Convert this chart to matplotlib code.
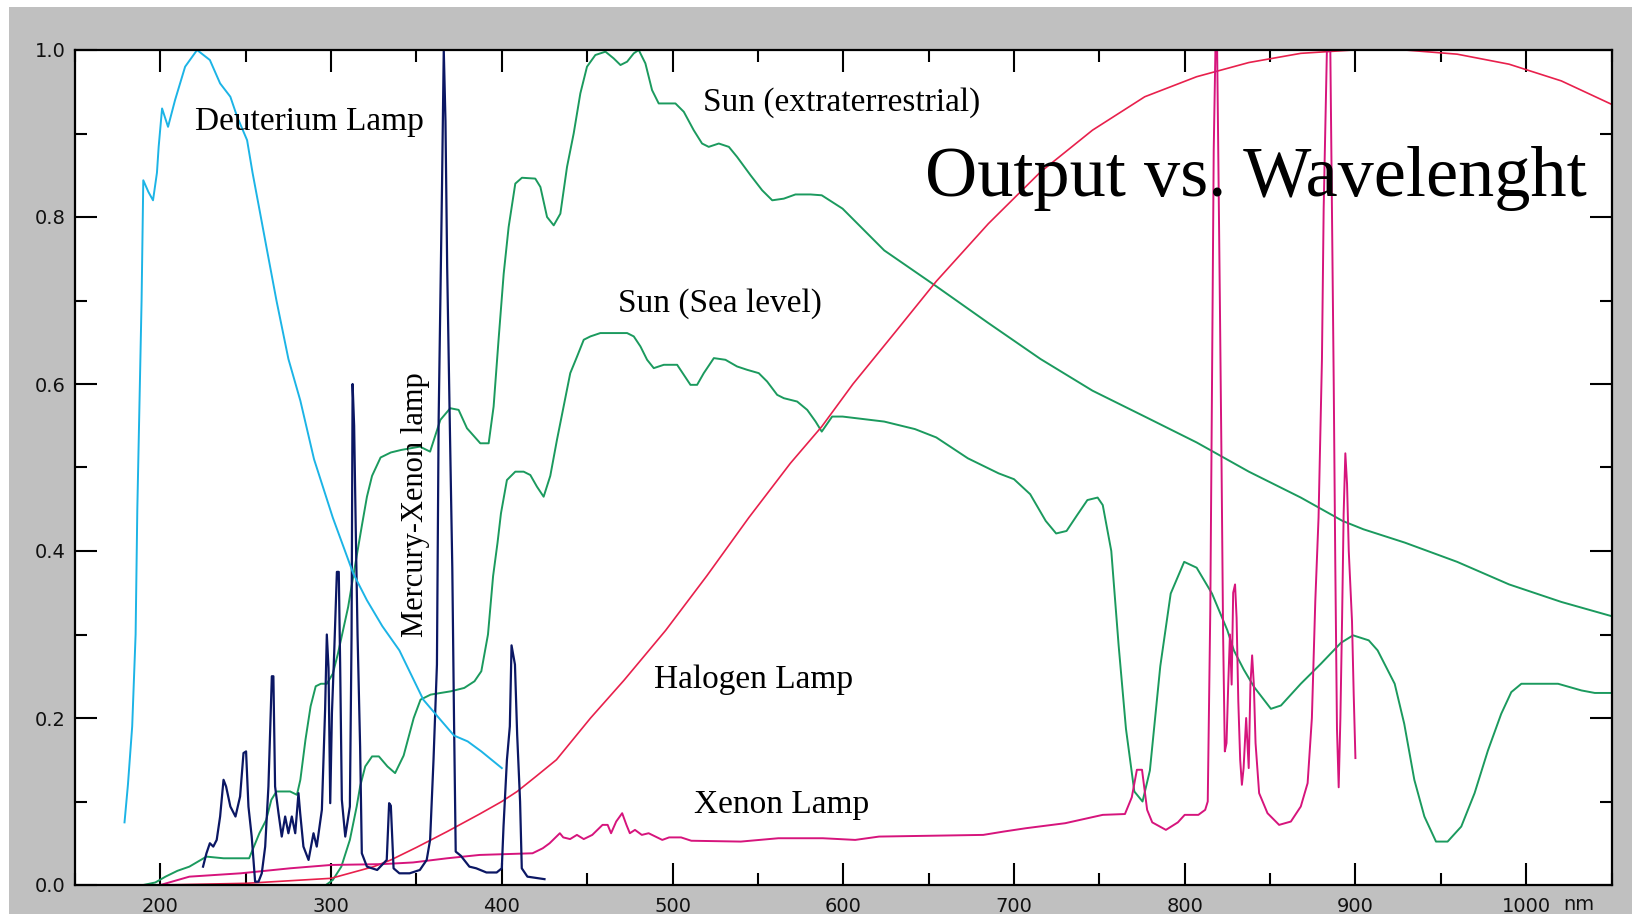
import matplotlib
matplotlib.use("Agg")
import matplotlib.pyplot as plt
from matplotlib.patches import Rectangle
from matplotlib.ticker import MultipleLocator, FormatStrFormatter

# ---- spectra (wavelength in nm, relative output) ----
deut_nm = [179, 181, 183.5, 185.5, 186.5, 188, 189, 190, 193, 195.7, 198, 199, 201, 204.5,
           208.6, 214.5, 221.5, 229, 235, 241, 245, 250.8, 254, 258.4, 262.5, 268, 275,
           282, 290, 301, 313, 321, 330, 340, 354, 364, 372, 380, 388, 400]
deut_val = [0.075, 0.12, 0.19, 0.30, 0.45, 0.60, 0.70, 0.844, 0.83, 0.82, 0.853, 0.884, 0.93,
            0.908, 0.94, 0.98, 1.0, 0.988, 0.96, 0.944, 0.92, 0.892, 0.853, 0.805, 0.76, 0.70,
            0.63, 0.58, 0.51, 0.44, 0.373, 0.341, 0.31, 0.281, 0.222, 0.198, 0.179, 0.172,
            0.16, 0.14]

hgxe_nm = [225, 227, 229, 231, 233, 235, 237, 238.5, 241, 244, 246.7, 248.7, 250.2, 251.6,
           253.5, 255.5, 257.5, 259.4, 261.4, 263.3, 265.3, 266.2, 267.2, 269.2, 271.1, 273.1,
           275, 277, 279, 280.9, 281.9, 283.8, 286.8, 289.7, 291.6, 294.6, 296.5, 297.5,
           298.5, 299.5, 300.5, 301.8, 303.4, 304.5, 305.3, 306.3, 308.3, 311, 312, 312.6,
           313.5, 314.5, 315.5, 317, 318, 321, 327, 332.6, 334, 335, 336.6, 340, 346, 352,
           356, 358, 360, 362, 363, 365, 366, 367, 368, 369.5, 371, 372, 373, 376, 381, 385,
           391, 397, 400, 401, 403, 404.7, 405.7, 407.7, 409, 410.7, 411.7, 415, 425]
hgxe_val = [0.022, 0.038, 0.05, 0.046, 0.054, 0.082, 0.126, 0.118, 0.094, 0.082, 0.106, 0.158,
            0.16, 0.094, 0.058, 0.004, 0.004, 0.014, 0.046, 0.118, 0.25, 0.25, 0.118, 0.086,
            0.058, 0.082, 0.062, 0.082, 0.062, 0.11, 0.086, 0.046, 0.03, 0.062, 0.046, 0.09,
            0.21, 0.30, 0.26, 0.098, 0.206, 0.277, 0.375, 0.375, 0.266, 0.102, 0.058, 0.094,
            0.30, 0.60, 0.55, 0.42, 0.30, 0.166, 0.038, 0.022, 0.018, 0.03, 0.098, 0.095, 0.02,
            0.014, 0.014, 0.018, 0.03, 0.054, 0.15, 0.264, 0.557, 0.84, 1.0, 0.915, 0.74,
            0.557, 0.38, 0.2, 0.04, 0.035, 0.022, 0.02, 0.015, 0.015, 0.02, 0.07, 0.15, 0.19,
            0.287, 0.264, 0.18, 0.1, 0.02, 0.01, 0.007]

sun_ext_nm = [150, 190, 197, 203, 210, 217, 227, 237, 252, 254, 258, 262, 265, 268, 276, 280,
              282, 285, 288, 291, 294, 297.5, 301, 304, 307, 310, 313, 318, 321, 324, 329, 335,
              341, 352, 358, 364, 369.8, 374.7, 379.6, 387.4, 392.3, 395.2, 398.1, 401.1, 404,
              407.9, 411.8, 419.6, 422.6, 426.5, 430.4, 434.3, 438.2, 442.1, 446, 449.9, 454.8,
              460.7, 465.5, 469.5, 473.4, 477.3, 480.2, 484.1, 488, 491.9, 501.7, 506.6, 512.4,
              517.3, 521.2, 527.1, 533, 537.8, 545.7, 552.5, 558.4, 565.2, 572, 580.8, 587.4,
              599.6, 624, 654.5, 685, 715.5, 746, 776.6, 807, 837.6, 868, 892.5, 904.7, 929,
              959.6, 990, 1020.6, 1050]
sun_ext_val = [0.0, 0.0, 0.003, 0.01, 0.017, 0.022, 0.034, 0.032, 0.032, 0.042, 0.062, 0.078,
               0.102, 0.112, 0.112, 0.108, 0.126, 0.174, 0.214, 0.238, 0.241, 0.241, 0.253,
               0.277, 0.305, 0.333, 0.37, 0.43, 0.465, 0.49, 0.512, 0.518, 0.521, 0.525, 0.519,
               0.557, 0.571, 0.569, 0.547, 0.529, 0.529, 0.573, 0.653, 0.732, 0.788, 0.84,
               0.847, 0.846, 0.836, 0.80, 0.79, 0.804, 0.86, 0.90, 0.948, 0.98, 0.994, 0.998,
               0.99, 0.982, 0.986, 0.996, 1.0, 0.984, 0.952, 0.936, 0.936, 0.926, 0.904, 0.888,
               0.884, 0.888, 0.884, 0.872, 0.85, 0.832, 0.82, 0.822, 0.827, 0.827, 0.826, 0.81,
               0.76, 0.717, 0.673, 0.63, 0.592, 0.561, 0.53, 0.495, 0.464, 0.436, 0.426, 0.41,
               0.387, 0.36, 0.339, 0.322]

sun_sea_nm = [297, 301, 306, 311, 315, 317, 320, 324, 328, 333, 337.5, 342.5, 348.4, 352.4,
              358.3, 364.2, 370.2, 378, 384, 388, 391.9, 394.9, 397.5, 399.5, 403, 407.9,
              412.8, 416.7, 420.6, 424.5, 428.4, 432.3, 436.2, 440.1, 444.1, 448, 451.9, 457.7,
              473.4, 477.3, 481.2, 485.1, 489, 494.9, 502.7, 506.6, 510.5, 514.4, 518.3, 524.2,
              531, 537.8, 543.7, 550.5, 555.4, 561.3, 565.2, 573, 578.9, 583.8, 587.4, 593.5,
              599.6, 624, 642, 654.5, 673, 691, 700, 709.5, 718.6, 724.7, 730.8, 737, 743, 749,
              752, 757, 761.3, 765.6, 770.5, 775.3, 779.6, 785.7, 791.8, 799.7, 807, 816, 825,
              828.8, 834.6, 840.7, 850.5, 856.4, 868, 879.8, 891.5, 898.6, 907.8, 913, 923,
              928.6, 934.5, 940.4, 947.2, 954, 962, 969.8, 977.6, 985.4, 991.3, 997.2, 1018.7,
              1032.4, 1040.2, 1050]
sun_sea_val = [0.0, 0.006, 0.022, 0.054, 0.094, 0.118, 0.142, 0.154, 0.154, 0.142, 0.134,
               0.155, 0.2, 0.222, 0.228, 0.23, 0.232, 0.236, 0.244, 0.256, 0.30, 0.37, 0.41,
               0.445, 0.485, 0.495, 0.495, 0.491, 0.477, 0.465, 0.49, 0.533, 0.573, 0.613,
               0.633, 0.653, 0.657, 0.661, 0.661, 0.657, 0.645, 0.629, 0.619, 0.623, 0.623,
               0.611, 0.599, 0.599, 0.613, 0.631, 0.629, 0.621, 0.617, 0.613, 0.603, 0.587,
               0.583, 0.579, 0.569, 0.555, 0.543, 0.561, 0.561, 0.555, 0.546, 0.536, 0.511,
               0.493, 0.486, 0.468, 0.436, 0.421, 0.424, 0.443, 0.461, 0.464, 0.455, 0.40,
               0.287, 0.187, 0.112, 0.10, 0.137, 0.262, 0.349, 0.387, 0.38, 0.349, 0.305,
               0.281, 0.258, 0.237, 0.211, 0.215, 0.241, 0.265, 0.29, 0.299, 0.293, 0.281,
               0.241, 0.193, 0.126, 0.082, 0.052, 0.052, 0.07, 0.11, 0.161, 0.205, 0.231,
               0.241, 0.241, 0.233, 0.23, 0.23]

halogen_nm = [200, 250, 300, 325, 335, 350, 368, 387, 400, 409, 420, 432, 452, 471.5, 496,
              520, 544.7, 569, 587.4, 605.7, 630, 654.5, 685, 715.6, 746, 776.6, 807, 837.6,
              868, 898.6, 929, 959.6, 990, 1020.6, 1050]
halogen_val = [0.0, 0.002, 0.008, 0.022, 0.03, 0.045, 0.064, 0.085, 0.1, 0.112, 0.13, 0.15,
               0.2, 0.245, 0.305, 0.37, 0.44, 0.505, 0.549, 0.60, 0.661, 0.723, 0.792, 0.854,
               0.904, 0.944, 0.968, 0.985, 0.996, 1.0, 1.0, 0.995, 0.983, 0.963, 0.935]

xenon_nm = [200, 217, 247, 276, 300, 330, 348, 368, 387, 418, 424, 428, 432, 434, 436, 440,
            444, 448, 453, 459, 462, 464, 467, 470.5, 473, 475, 478, 482, 486, 490, 494, 498,
            505, 511, 540, 562, 588, 607, 621, 682, 694, 707, 730, 752, 765, 769, 772, 775,
            778, 781, 789, 796, 800, 808, 812, 813.5, 815, 816, 817, 818, 819, 819.6, 820.6,
            821.6, 822.5, 823.5, 824.5, 825.5, 826.5, 827.5, 828.4, 829.5, 830.4, 831.4,
            832.5, 833.5, 834.5, 836, 837.5, 838.5, 839.5, 840.5, 841.5, 843.6, 848.5, 855.3,
            862.2, 868, 872, 874.5, 876.5, 878.4, 880.4, 881.4, 883.3, 885.3, 886.3, 887.3,
            888.2, 889.2, 890.2, 891.2, 892.2, 893.1, 894.1, 895.1, 896.1, 898, 899, 900]
xenon_val = [0.0, 0.01, 0.014, 0.02, 0.024, 0.025, 0.027, 0.032, 0.036, 0.038, 0.044, 0.05,
             0.058, 0.062, 0.057, 0.055, 0.06, 0.055, 0.06, 0.072, 0.072, 0.062, 0.076, 0.086,
             0.072, 0.062, 0.066, 0.06, 0.062, 0.058, 0.054, 0.057, 0.057, 0.053, 0.052,
             0.056, 0.056, 0.054, 0.058, 0.06, 0.064, 0.068, 0.074, 0.084, 0.085, 0.105, 0.138,
             0.138, 0.09, 0.075, 0.066, 0.075, 0.084, 0.084, 0.09, 0.1, 0.33, 0.60, 0.88, 1.0,
             1.0, 0.89, 0.70, 0.50, 0.30, 0.16, 0.17, 0.24, 0.30, 0.24, 0.35, 0.36, 0.32, 0.22,
             0.15, 0.12, 0.14, 0.20, 0.14, 0.24, 0.275, 0.24, 0.17, 0.11, 0.086, 0.072, 0.076,
             0.094, 0.122, 0.20, 0.34, 0.44, 0.63, 0.81, 1.0, 1.0, 0.80, 0.60, 0.386, 0.187,
             0.117, 0.20, 0.32, 0.444, 0.517, 0.48, 0.40, 0.316, 0.228, 0.152]

GREEN = "#1b9a5e"
RED = "#e8204c"
PINK = "#d6147c"
NAVY = "#0b1764"
CYAN = "#1cb4e6"
SERIF = ["Liberation Serif", "DejaVu Serif"]

fig = plt.figure(figsize=(16.32, 9.14), dpi=100, facecolor="white")
fig.patches.append(Rectangle((9 / 1632, 0), 1.0, (914 - 7) / 914, transform=fig.transFigure,
                             facecolor="#c0c0c0", edgecolor="none", zorder=-10))

ax = fig.add_axes([75 / 1632, 29 / 914, 1536.5 / 1632, 835 / 914])
ax.set_facecolor("white")

lw = 1.4
ax.plot(sun_ext_nm, sun_ext_val, color=GREEN, lw=lw)
ax.plot(sun_sea_nm, sun_sea_val, color=GREEN, lw=lw)
ax.plot(halogen_nm, halogen_val, color=RED, lw=1.2)
ax.plot(xenon_nm, xenon_val, color=PINK, lw=lw)
ax.plot(hgxe_nm, hgxe_val, color=NAVY, lw=1.6)
ax.plot(deut_nm, deut_val, color=CYAN, lw=lw)

ax.set_xlim(150, 1050)
ax.set_ylim(0, 1.0)

ax.xaxis.set_major_locator(MultipleLocator(100))
ax.xaxis.set_minor_locator(MultipleLocator(50))
ax.yaxis.set_major_locator(MultipleLocator(0.2))
ax.yaxis.set_minor_locator(MultipleLocator(0.1))
ax.yaxis.set_major_formatter(FormatStrFormatter("%.1f"))

ax.tick_params(which="both", direction="in", top=True, right=True, width=1.5, color="black")
ax.tick_params(which="major", length=16)
ax.tick_params(which="minor", length=8.5)
ax.tick_params(axis="x", which="major", pad=9, labelsize=14)
ax.tick_params(axis="y", which="major", pad=7, labelsize=14)
for lab in ax.get_xticklabels() + ax.get_yticklabels():
    lab.set_fontfamily("DejaVu Sans")
    lab.set_color("#111111")

for sp in ax.spines.values():
    sp.set_linewidth(1.6)
    sp.set_color("black")

ax.text(1021.6, -0.030, "nm", transform=ax.get_xaxis_transform(), fontsize=14,
        family="DejaVu Sans", ha="left", va="baseline", color="#111111", clip_on=False)

# curve labels
ax.text(220.3, 0.904, "Deuterium Lamp", family=SERIF, fontsize=24, ha="left", va="baseline")
ax.text(518, 0.927, "Sun (extraterrestrial)", family=SERIF, fontsize=24, ha="left", va="baseline")
ax.text(468.3, 0.686, "Sun (Sea level)", family=SERIF, fontsize=24, ha="left", va="baseline")
ax.text(489.4, 0.236, "Halogen Lamp", family=SERIF, fontsize=24, ha="left", va="baseline")
ax.text(512.8, 0.086, "Xenon Lamp", family=SERIF, fontsize=24, ha="left", va="baseline")
ax.text(349.3, 0.456, "Mercury-Xenon lamp", family=SERIF, fontsize=22, rotation=90,
        ha="center", va="center")

ax.text(647.7, 0.825, "Output vs. Wavelenght", family=SERIF, fontsize=52, ha="left",
        va="baseline")

fig.savefig("out.png", dpi=100, facecolor="white")
